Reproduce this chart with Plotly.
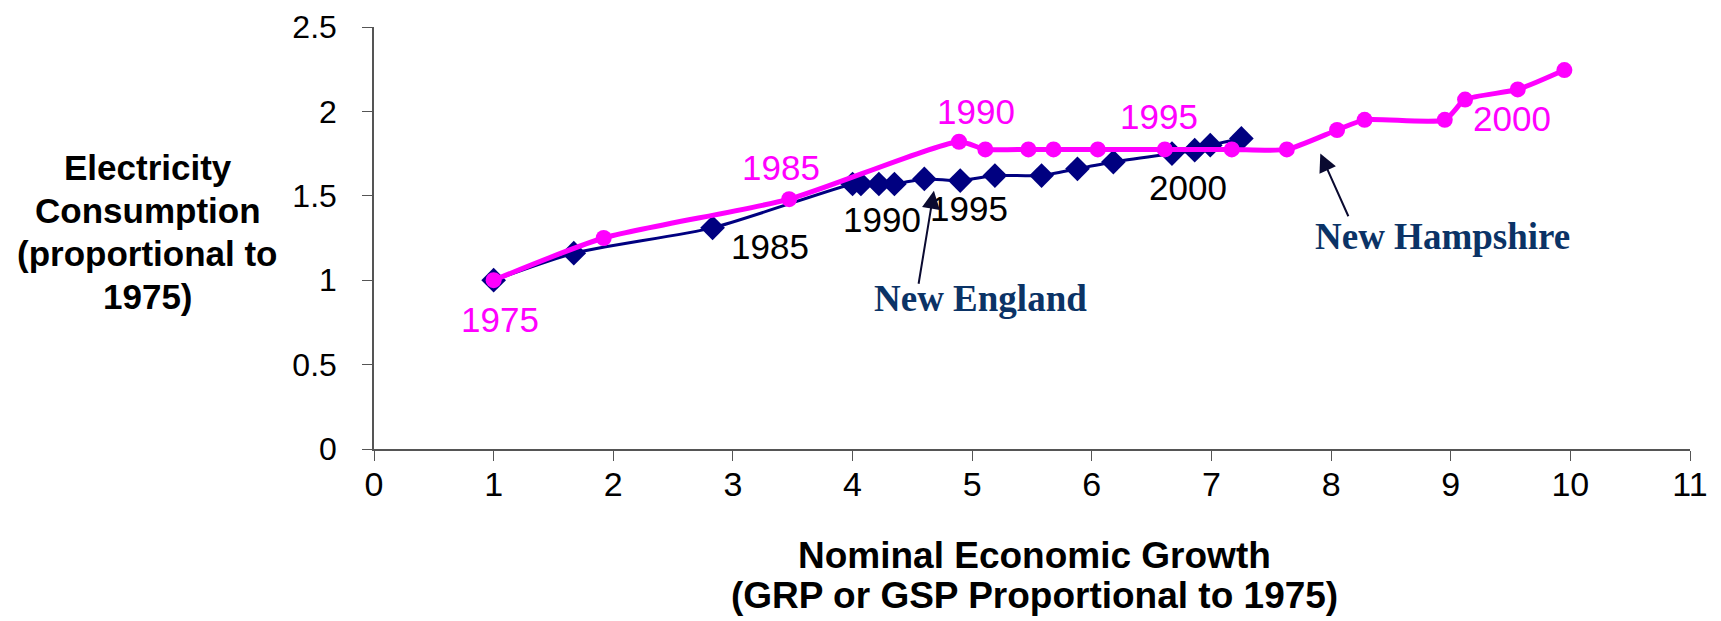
import plotly.graph_objects as go

# New Hampshire (pink circles)
nh_x = [1.00, 1.92, 3.47, 4.89, 5.11, 5.47, 5.68, 6.05, 6.61, 7.17, 7.63, 8.05, 8.28, 8.95, 9.12, 9.56, 9.95]
nh_y = [1.00, 1.25, 1.48, 1.82, 1.775, 1.775, 1.775, 1.775, 1.775, 1.775, 1.775, 1.89, 1.95, 1.95, 2.07, 2.13, 2.245]

# New England (navy diamonds)
ne_x = [1.00, 1.67, 2.83, 4.00, 4.07, 4.22, 4.35, 4.60, 4.90, 5.19, 5.58, 5.88, 6.18, 6.67, 6.86, 6.99, 7.25]
ne_y = [1.00, 1.16, 1.31, 1.57, 1.57, 1.57, 1.57, 1.60, 1.59, 1.62, 1.62, 1.66, 1.70, 1.75, 1.77, 1.80, 1.84]

# year labels: (text, x, y)
nh_years = [("1975", 1.05, 0.77), ("1985", 3.40, 1.665), ("1990", 5.03, 2.0),
            ("1995", 6.56, 1.97), ("2000", 9.51, 1.96)]
ne_years = [("1985", 3.31, 1.2), ("1990", 4.25, 1.36), ("1995", 4.97, 1.425),
            ("2000", 6.80, 1.55)]

y_title_lines = ["Electricity", "Consumption", "(proportional to", "1975)"]
x_title_lines = ["Nominal Economic Growth", "(GRP or GSP Proportional to 1975)"]

PINK = "#FF00FF"
NAVY = "#000080"
LABEL = "#0B3366"
ARROW = "#0a0a30"

fig = go.Figure()

fig.add_trace(go.Scatter(
    x=ne_x, y=ne_y, mode="lines+markers", name="New England",
    line=dict(color=NAVY, width=3, shape="spline", smoothing=0.6),
    marker=dict(symbol="diamond", size=19, color=NAVY),
))
fig.add_trace(go.Scatter(
    x=nh_x, y=nh_y, mode="lines+markers", name="New Hampshire",
    line=dict(color=PINK, width=5, shape="spline", smoothing=0.6),
    marker=dict(symbol="circle", size=16, color=PINK),
))

for txt, x, y in nh_years:
    fig.add_annotation(x=x, y=y, text=txt, showarrow=False,
                       font=dict(family="Liberation Sans, Arial", size=35, color=PINK))
for txt, x, y in ne_years:
    fig.add_annotation(x=x, y=y, text=txt, showarrow=False,
                       font=dict(family="Liberation Sans, Arial", size=35, color="black"))

# state labels with arrows
fig.add_annotation(x=5.07, y=0.89, text="<b>New England</b>", showarrow=False,
                   font=dict(family="Liberation Serif, Times New Roman", size=37, color=LABEL))
fig.add_annotation(x=4.68, y=1.53, ax=4.55, ay=0.97, axref="x", ayref="y", text="",
                   showarrow=True, arrowhead=2, arrowsize=1.8, arrowwidth=2, arrowcolor=ARROW)
fig.add_annotation(x=8.93, y=1.256, text="<b>New Hampshire</b>", showarrow=False,
                   font=dict(family="Liberation Serif, Times New Roman", size=37, color=LABEL))
fig.add_annotation(x=7.91, y=1.75, ax=8.15, ay=1.37, axref="x", ayref="y", text="",
                   showarrow=True, arrowhead=2, arrowsize=1.8, arrowwidth=2, arrowcolor=ARROW)

# axis titles as annotations (y title is horizontal in the original)
for line, yp in zip(y_title_lines, [0.667, 0.565, 0.463, 0.361]):
    fig.add_annotation(xref="paper", yref="paper", x=-0.172, y=yp,
                       xanchor="center", yanchor="middle",
                       text="<b>" + line + "</b>", showarrow=False,
                       font=dict(family="Liberation Sans, Arial", size=35, color="black"))
for line, yp in zip(x_title_lines, [-0.253, -0.347]):
    fig.add_annotation(xref="paper", yref="paper", x=0.502, y=yp,
                       xanchor="center", yanchor="middle",
                       text="<b>" + line + "</b>", showarrow=False,
                       font=dict(family="Liberation Sans, Arial", size=37, color="black"))

fig.update_layout(
    width=1713, height=613,
    margin=dict(l=366, r=31, t=19, b=172),
    plot_bgcolor="white", paper_bgcolor="white",
    showlegend=False,
    font=dict(family="Liberation Sans, Arial", color="black"),
)
fig.update_xaxes(
    range=[0, 11], dtick=1, showgrid=False, zeroline=False, automargin=False,
    showline=True, linecolor="#555555", linewidth=1.5,
    ticks="outside", ticklen=10, tickcolor="#555555",
    tickfont=dict(size=34), ticklabelstandoff=-6, ticklabeloverflow="allow",
)
fig.update_yaxes(
    range=[0, 2.5], dtick=0.5, showgrid=False, zeroline=False, automargin=False,
    showline=True, linecolor="#555555", linewidth=1.5,
    ticks="outside", ticklen=10, tickcolor="#555555",
    tickfont=dict(size=32), ticklabelstandoff=19, ticklabeloverflow="allow",
)

fig.write_html("out.html")
